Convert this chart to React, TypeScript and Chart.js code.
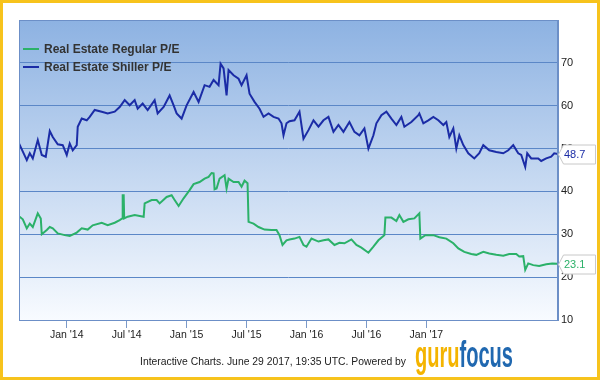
import React, { useEffect, useRef } from "react";
import { Chart, registerables } from "chart.js";
Chart.register(...registerables);

// Months since Jan 2013
const xTickValues = [12, 18, 24, 30, 36, 42, 48];
const xTickLabels = ["Jan '14", "Jul '14", "Jan '15", "Jul '15", "Jan '16", "Jul '16", "Jan '17"];
const xMin = 7.22;
const xMax = 61.18;
const yMin = 10;
const yMax = 80;

const seriesNames = ["Real Estate Regular P/E", "Real Estate Shiller P/E"];
const lastValueLabels = ["23.1", "48.7"];
const footerText = "Interactive Charts. June 29 2017, 19:35 UTC. Powered by";

const shillerMonths = [
  7.22, 8.0, 8.3, 8.6, 9.1, 9.5, 9.9, 10.3, 10.6, 11.1, 11.6, 12.0, 12.3, 12.6, 13.0, 13.1, 13.5, 14.0, 14.3, 14.8,
  15.5, 16.1, 16.8, 17.3, 17.8, 18.3, 18.8, 19.1, 19.6, 20.1, 20.8, 21.1, 21.7, 22.3, 22.7, 23.0, 23.5, 24.0, 24.7,
  25.2, 25.8, 26.3, 26.7, 27.2, 27.4, 27.7, 28.0, 28.2, 28.7, 29.2, 29.5, 30.0, 30.3, 30.8, 31.3, 31.7, 32.2, 32.7,
  33.2, 33.5, 33.7, 34.0, 34.3, 34.8, 35.3, 35.7, 36.2, 36.7, 37.2, 37.7, 38.2, 38.7, 39.2, 39.7, 40.3, 40.8, 41.3,
  41.8, 42.2, 42.7, 43.0, 43.5, 44.0, 44.5, 45.0, 45.5, 45.8, 46.5, 47.2, 47.3, 47.7, 48.2, 48.7, 49.2, 49.7, 50.0,
  50.3, 50.7, 51.0, 51.3, 51.7, 52.2, 52.8, 53.3, 53.7, 54.3, 55.0, 55.7, 56.2, 56.7, 57.2, 57.5, 57.9, 58.1, 58.5,
  59.2, 59.5, 60.0, 60.5, 60.8, 61.18,
];
const shillerPE = [
  51.2, 47.3, 48.9, 47.7, 52.0, 48.5, 48.1, 54.1, 52.7, 51.0, 50.8, 48.5, 51.2, 49.6, 50.8, 55.1, 57.0, 56.6, 57.4, 59.0,
  58.6, 58.2, 58.6, 59.7, 61.3, 60.1, 61.3, 59.3, 60.5, 59.0, 61.3, 58.2, 59.7, 62.4, 60.1, 58.2, 57.0, 60.1, 63.2,
  60.9, 64.8, 64.4, 66.0, 64.8, 69.8, 68.7, 62.4, 68.3, 67.1, 66.3, 64.8, 67.1, 62.8, 60.9, 59.3, 57.4, 58.2, 57.4,
  57.0, 55.9, 53.1, 55.9, 56.4, 56.6, 58.6, 52.3, 54.3, 56.6, 55.1, 56.6, 57.4, 53.9, 55.5, 53.9, 56.2, 53.9, 53.1,
  54.7, 50.0, 53.1, 55.9, 57.8, 58.6, 57.0, 55.5, 57.4, 55.1, 56.2, 57.8, 58.2, 55.9, 56.6, 57.4, 56.6, 55.5, 56.2,
  52.7, 54.7, 50.0, 53.1, 50.8, 48.9, 47.7, 48.9, 50.8, 49.6, 49.2, 48.9, 49.6, 50.8, 48.9, 48.5, 45.7, 48.9, 47.7,
  47.7, 47.1, 47.7, 48.1, 48.9, 48.7,
];

const regularMonths = [
  7.22, 7.6, 8.0, 8.3, 8.6, 9.1, 9.4, 9.5, 10.0, 10.3, 10.6, 11.1, 11.8, 12.3, 13.0, 13.5, 14.1, 14.6, 15.5, 16.1,
  16.8, 17.3, 17.55, 17.6, 17.7, 17.75, 18.1, 18.8, 19.7, 19.8, 20.5, 21.0, 21.3, 22.0, 22.5, 22.8, 23.2, 23.7, 24.3,
  24.7, 25.3, 25.8, 26.2, 26.5, 26.7, 26.8, 27.0, 27.3, 27.8, 28.0, 28.2, 28.7, 29.2, 29.5, 29.8, 30.1, 30.2, 30.7,
  31.2, 31.8, 32.5, 33.0, 33.3, 33.6, 34.0, 34.3, 34.8, 35.3, 35.7, 36.0, 36.5, 37.2, 37.7, 38.2, 38.8, 39.3, 39.8,
  40.5, 41.0, 41.5, 42.2, 42.7, 43.2, 43.7, 43.8, 43.9, 44.5, 45.0, 45.3, 45.7, 46.2, 46.8, 47.3, 47.4, 47.9, 48.7,
  49.3, 50.0, 50.7, 51.2, 51.8, 52.5, 53.0, 53.7, 54.3, 55.0, 55.7, 56.3, 57.0, 57.3, 57.7, 57.9, 58.2, 58.7, 59.3,
  60.0, 60.6, 61.18,
];
const regularPE = [
  34.2, 33.5, 31.4, 32.5, 31.7, 34.9, 33.7, 30.0, 31.0, 31.7, 31.4, 30.2, 29.8, 29.6, 30.4, 31.4, 31.1, 32.1, 32.7, 32.1,
  32.7, 33.3, 33.7, 39.1, 39.1, 33.7, 34.1, 34.5, 34.1, 37.2, 38.0, 38.0, 37.2, 38.7, 39.1, 38.0, 36.6, 38.4, 40.3,
  41.7, 42.2, 43.0, 43.4, 44.3, 44.2, 40.5, 40.7, 43.0, 43.8, 40.7, 43.0, 42.2, 42.2, 41.1, 42.5, 41.9, 32.9, 32.5,
  31.7, 31.1, 31.0, 31.0, 29.8, 27.5, 28.6, 28.8, 29.0, 29.4, 27.5, 27.1, 29.0, 28.3, 28.6, 28.8, 27.5, 28.0, 27.9,
  28.8, 27.5, 26.9, 25.7, 27.1, 28.6, 29.6, 29.8, 33.9, 33.9, 33.1, 34.5, 32.9, 33.5, 33.7, 34.9, 29.0, 29.8, 29.8,
  29.3, 29.0, 27.9, 26.7, 25.9, 25.4, 25.2, 25.9, 25.5, 25.2, 25.0, 25.4, 25.4, 24.8, 24.9, 21.7, 23.2, 22.8, 22.6,
  23.0, 23.2, 23.1,
];

const GREEN = "#2bb169";
const BLUE = "#1b2ca6";
const FONT = "'Liberation Sans', Arial, sans-serif";

const decor = {
  id: "decor",
  beforeDraw(chart: any) {
    const { ctx, chartArea: a, width, height } = chart;
    ctx.save();
    ctx.fillStyle = "#ffffff";
    ctx.fillRect(0, 0, width, height);
    const g = ctx.createLinearGradient(0, a.top, 0, a.bottom);
    g.addColorStop(0, "#8db2e2");
    g.addColorStop(1, "#f8fbff");
    ctx.fillStyle = g;
    ctx.fillRect(a.left, a.top, a.right - a.left, a.bottom - a.top);
    ctx.restore();
  },
  afterDraw(chart: any) {
    const { ctx, chartArea: a, width, height } = chart;
    const yScale = chart.scales.y;
    ctx.save();
    // plot border
    ctx.strokeStyle = "#6c8fc7";
    ctx.lineWidth = 1;
    ctx.strokeRect(a.left + 0.5, a.top + 0.5, a.right - a.left - 1, a.bottom - a.top);

    // legend
    const colors = [GREEN, BLUE];
    ctx.font = `bold 12px ${FONT}`;
    ctx.textBaseline = "middle";
    ctx.textAlign = "left";
    seriesNames.forEach((name, i) => {
      const y = 49 + i * 18;
      ctx.strokeStyle = colors[i];
      ctx.lineWidth = 2;
      ctx.beginPath();
      ctx.moveTo(23, y);
      ctx.lineTo(39, y);
      ctx.stroke();
      ctx.fillStyle = "#333333";
      ctx.fillText(name, 44, y + 0.5);
    });

    // last value flags
    const lastVals = [regularPE[regularPE.length - 1], shillerPE[shillerPE.length - 1]];
    lastVals.forEach((v, i) => {
      const y = Math.round(yScale.getPixelForValue(v)) + 0.5;
      const x0 = a.right + 0.5;
      const bl = x0 + 5;
      const br = 595.5;
      ctx.beginPath();
      ctx.moveTo(x0, y);
      ctx.lineTo(bl, y - 9.5);
      ctx.lineTo(br, y - 9.5);
      ctx.lineTo(br, y + 9.5);
      ctx.lineTo(bl, y + 9.5);
      ctx.closePath();
      ctx.fillStyle = "#ffffff";
      ctx.fill();
      ctx.strokeStyle = "#c8c8c8";
      ctx.lineWidth = 1;
      ctx.stroke();
      ctx.font = `11px ${FONT}`;
      ctx.fillStyle = colors[i];
      ctx.textBaseline = "middle";
      ctx.fillText(lastValueLabels[i], bl + 0.5, y + 0.5);
    });

    // footer
    ctx.font = `11px ${FONT}`;
    const w = ctx.measureText(footerText).width;
    const fs = (11 * 266) / w;
    ctx.font = `${fs.toFixed(2)}px ${FONT}`;
    ctx.fillStyle = "#222222";
    ctx.textBaseline = "alphabetic";
    ctx.fillText(footerText, 140, 365);

    // logo
    ctx.font = `bold 36px ${FONT}`;
    const w1 = ctx.measureText("guru").width;
    const w2 = ctx.measureText("focus").width;
    const sx = 98 / (w1 + w2);
    ctx.save();
    ctx.translate(415, 367);
    ctx.scale(sx, 1);
    ctx.fillStyle = "#f4b400";
    ctx.fillText("guru", 0, 0);
    ctx.fillStyle = "#2068b0";
    ctx.fillText("focus", w1, 0);
    ctx.restore();

    // outer border
    ctx.strokeStyle = "#f7c31d";
    ctx.lineWidth = 3;
    ctx.strokeRect(1.5, 1.5, width - 3, height - 3);
    ctx.restore();
  },
};

export default function App() {
  const ref = useRef<HTMLCanvasElement | null>(null);
  useEffect(() => {
    if (!ref.current) return;
    const chart = new Chart(ref.current, {
      type: "line",
      data: {
        datasets: [
          {
            label: seriesNames[0],
            data: regularMonths.map((m, i) => ({ x: m, y: regularPE[i] })),
            borderColor: GREEN,
            borderWidth: 2,
            pointRadius: 0,
            tension: 0,
            fill: false,
          },
          {
            label: seriesNames[1],
            data: shillerMonths.map((m, i) => ({ x: m, y: shillerPE[i] })),
            borderColor: BLUE,
            borderWidth: 2,
            pointRadius: 0,
            tension: 0,
            fill: false,
          },
        ],
      },
      options: {
        responsive: false,
        animation: false,
        layout: { padding: { left: 19, top: 20, right: 0, bottom: 0 } },
        plugins: { legend: { display: false }, tooltip: { enabled: false } },
        scales: {
          x: {
            type: "linear",
            min: xMin,
            max: xMax,
            afterFit: (s: any) => {
              s.height = 60;
            },
            afterBuildTicks: (s: any) => {
              s.ticks = xTickValues.map((v) => ({ value: v }));
            },
            grid: { drawOnChartArea: false, drawTicks: true, tickLength: 8, color: "#7b99c9" },
            border: { display: true, color: "#6c8fc7" },
            ticks: {
              autoSkip: false,
              maxRotation: 0,
              padding: 1,
              color: "#222222",
              font: { family: FONT, size: 10.5 },
              callback: (v: any) => {
                const idx = xTickValues.indexOf(Number(v));
                return idx >= 0 ? xTickLabels[idx] : "";
              },
            },
          },
          y: {
            position: "right",
            min: yMin,
            max: yMax,
            afterFit: (s: any) => {
              s.width = 42;
            },
            grid: { color: "#5b87c7", drawTicks: false },
            border: { display: true, color: "#6c8fc7" },
            ticks: {
              stepSize: 10,
              padding: 3,
              color: "#222222",
              font: { family: FONT, size: 11 },
              callback: (v: any) => (Number(v) === yMax ? "" : String(v)),
            },
          },
        },
      },
      plugins: [decor],
    });
    return () => chart.destroy();
  }, []);
  return (
    <div style={{ position: "fixed", left: 0, top: 0, width: 600, height: 380 }}>
      <canvas ref={ref} width={600} height={380} />
    </div>
  );
}
